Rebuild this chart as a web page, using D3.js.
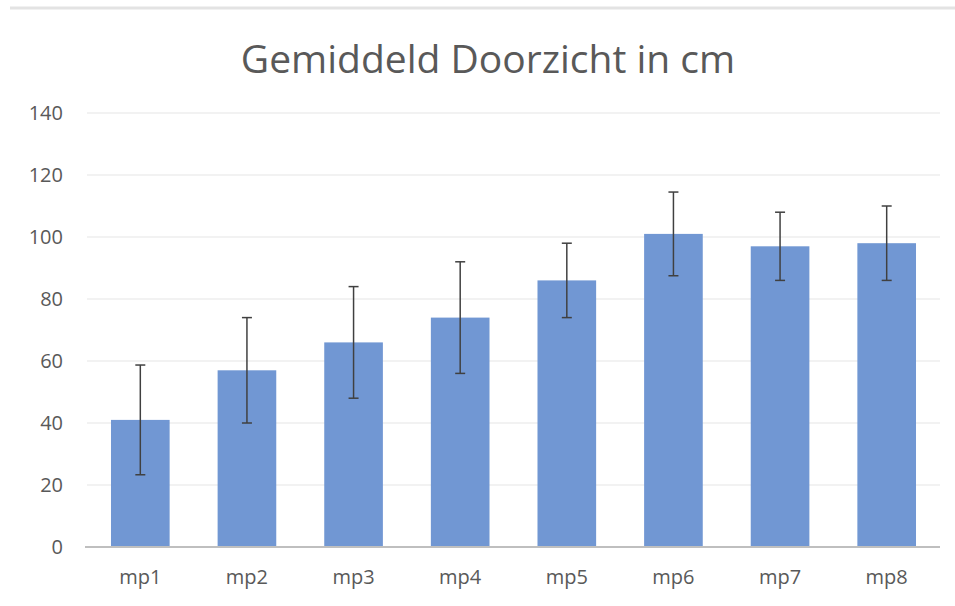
<!DOCTYPE html>
<html>
<head>
<meta charset="utf-8">
<script src="https://cdn.jsdelivr.net/npm/d3@7"></script>
<style>
  body { margin: 0; background: #fff; }
  svg { display: block; font-family: "Open Sans", "Noto Sans", sans-serif; }
  .tick-label { fill: #595959; font-size: 20px; }
</style>
</head>
<body>
<svg id="chart" width="955" height="606"></svg>
<script>
// Data
const categories = ['mp1', 'mp2', 'mp3', 'mp4', 'mp5', 'mp6', 'mp7', 'mp8'];
const means = [41, 57, 66, 74, 86, 101, 97, 98];
const errors = [17.7, 17, 18, 18, 12, 13.5, 11, 12];
const yTicks = [0, 20, 40, 60, 80, 100, 120, 140];

const margin = { top: 113, right: 15, bottom: 59, left: 87 };
const width = 955 - margin.left - margin.right;
const height = 606 - margin.top - margin.bottom;

const svg = d3.select('#chart');

// light frame line at the top
svg.append('line')
    .attr('x1', 10).attr('x2', 955)
    .attr('y1', 8).attr('y2', 8)
    .attr('stroke', '#e3e3e3')
    .attr('stroke-width', 3);

svg.append('text')
    .attr('x', 488)
    .attr('y', 73)
    .attr('text-anchor', 'middle')
    .attr('fill', '#595959')
    .style('font-size', '39px')
    .text('Gemiddeld Doorzicht in cm');

const g = svg.append('g')
    .attr('transform', `translate(${margin.left},${margin.top})`);

const x = d3.scaleBand()
    .domain(categories)
    .range([0, width])
    .paddingInner(0.45)
    .paddingOuter(0.225);

const y = d3.scaleLinear()
    .domain([0, 140])
    .range([height, 0]);

// gridlines
g.selectAll('.grid')
    .data(yTicks.filter(t => t > 0))
    .enter()
    .append('line')
    .attr('x1', 0).attr('x2', width)
    .attr('y1', d => y(d)).attr('y2', d => y(d))
    .attr('stroke', '#eeeeee')
    .attr('stroke-width', 1.5);

// y labels
g.selectAll('.ylab')
    .data(yTicks)
    .enter()
    .append('text')
    .attr('class', 'tick-label')
    .attr('x', -24)
    .attr('y', d => y(d))
    .attr('dy', '0.35em')
    .attr('text-anchor', 'end')
    .text(d => d);

// bars
g.selectAll('.bar')
    .data(categories)
    .enter()
    .append('rect')
    .attr('x', d => x(d))
    .attr('y', (d, i) => y(means[i]))
    .attr('width', x.bandwidth())
    .attr('height', (d, i) => height - y(means[i]))
    .attr('fill', '#7197d3');

// x axis line
g.append('line')
    .attr('x1', -2).attr('x2', width)
    .attr('y1', height).attr('y2', height)
    .attr('stroke', '#bfbfbf')
    .attr('stroke-width', 2);

// error bars
const eb = g.selectAll('.err')
    .data(categories)
    .enter()
    .append('g')
    .attr('stroke', '#404040')
    .attr('stroke-width', 1.5);

eb.append('line')
    .attr('x1', d => x(d) + x.bandwidth() / 2)
    .attr('x2', d => x(d) + x.bandwidth() / 2)
    .attr('y1', (d, i) => y(means[i] + errors[i]))
    .attr('y2', (d, i) => y(means[i] - errors[i]));

[1, -1].forEach(s => {
    eb.append('line')
        .attr('x1', d => x(d) + x.bandwidth() / 2 - 5)
        .attr('x2', d => x(d) + x.bandwidth() / 2 + 5)
        .attr('y1', (d, i) => y(means[i] + s * errors[i]))
        .attr('y2', (d, i) => y(means[i] + s * errors[i]));
});

// x labels
g.selectAll('.xlab')
    .data(categories)
    .enter()
    .append('text')
    .attr('class', 'tick-label')
    .attr('x', d => x(d) + x.bandwidth() / 2)
    .attr('y', height + 30)
    .attr('dy', '0.35em')
    .attr('text-anchor', 'middle')
    .text(d => d);
</script>
</body>
</html>
